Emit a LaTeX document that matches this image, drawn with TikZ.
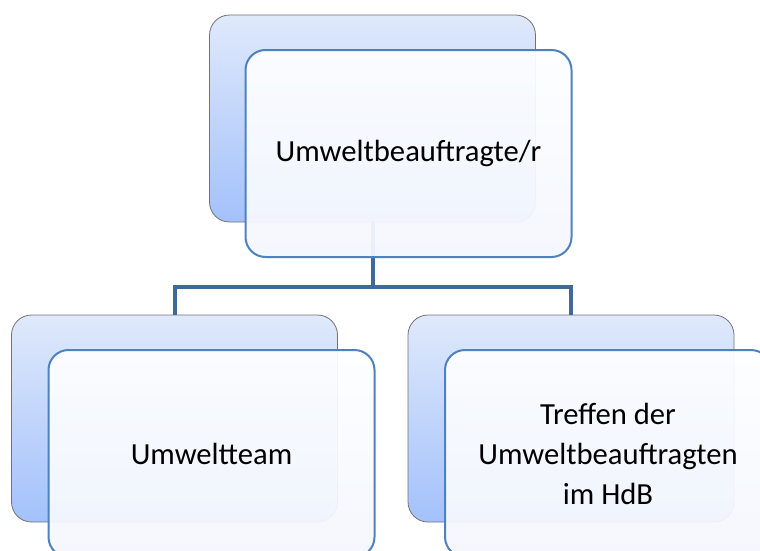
\documentclass[tikz,border=0pt]{standalone}
\usepackage{fontspec}
\setmainfont{Carlito}
\usetikzlibrary{positioning,calc}
\definecolor{backtop}{HTML}{DFE9FB}
\definecolor{backbot}{HTML}{A3C1FB}
\definecolor{fronttop}{HTML}{FDFEFF}
\definecolor{frontbot}{HTML}{F4F7FE}
\definecolor{frameblue}{HTML}{4F81BD}
\definecolor{linkblue}{HTML}{41689A}
\tikzset{
  backbox/.style={rectangle, rounded corners=15pt, draw=black!55, line width=0.6pt,
    top color=backtop, bottom color=backbot, minimum width=244.5pt, minimum height=155.25pt},
  frontbox/.style={rectangle, rounded corners=15pt, draw=frameblue, line width=1.5pt,
    top color=fronttop, bottom color=frontbot, fill opacity=0.94, text opacity=1,
    minimum width=244.5pt, minimum height=155.25pt, align=center,
    font=\fontsize{23}{30}\selectfont},
  link/.style={draw=linkblue, line width=3pt}
}
\begin{document}
\begin{tikzpicture}[x=0.75pt,y=-0.75pt]
\useasboundingbox (0,0) rectangle (760,550);
% back cards
\node[backbox] (b1) at (372.5,118.5) {};
\node[backbox] (b2) at (174.5,418.5) {};
\node[backbox] (b3) at (571,418.5) {};
% links between the cards
\coordinate (fork) at ($(b1.south)+(0,65)$);
\draw[link] (b1.south) -- (fork);
\draw[link] (fork) -| (b2.north);
\draw[link] (fork) -| (b3.north);
% front cards
\node[frontbox] (a1) at ($(b1)+(36,35)$) {Umweltbeauftragte/r};
\node[frontbox] (a2) at ($(b2)+(37,35)$) {Umweltteam};
\node[frontbox] (a3) at ($(b3)+(37,35)$) {Treffen der\\Umweltbeauftragten\\im HdB};
\end{tikzpicture}
\end{document}
